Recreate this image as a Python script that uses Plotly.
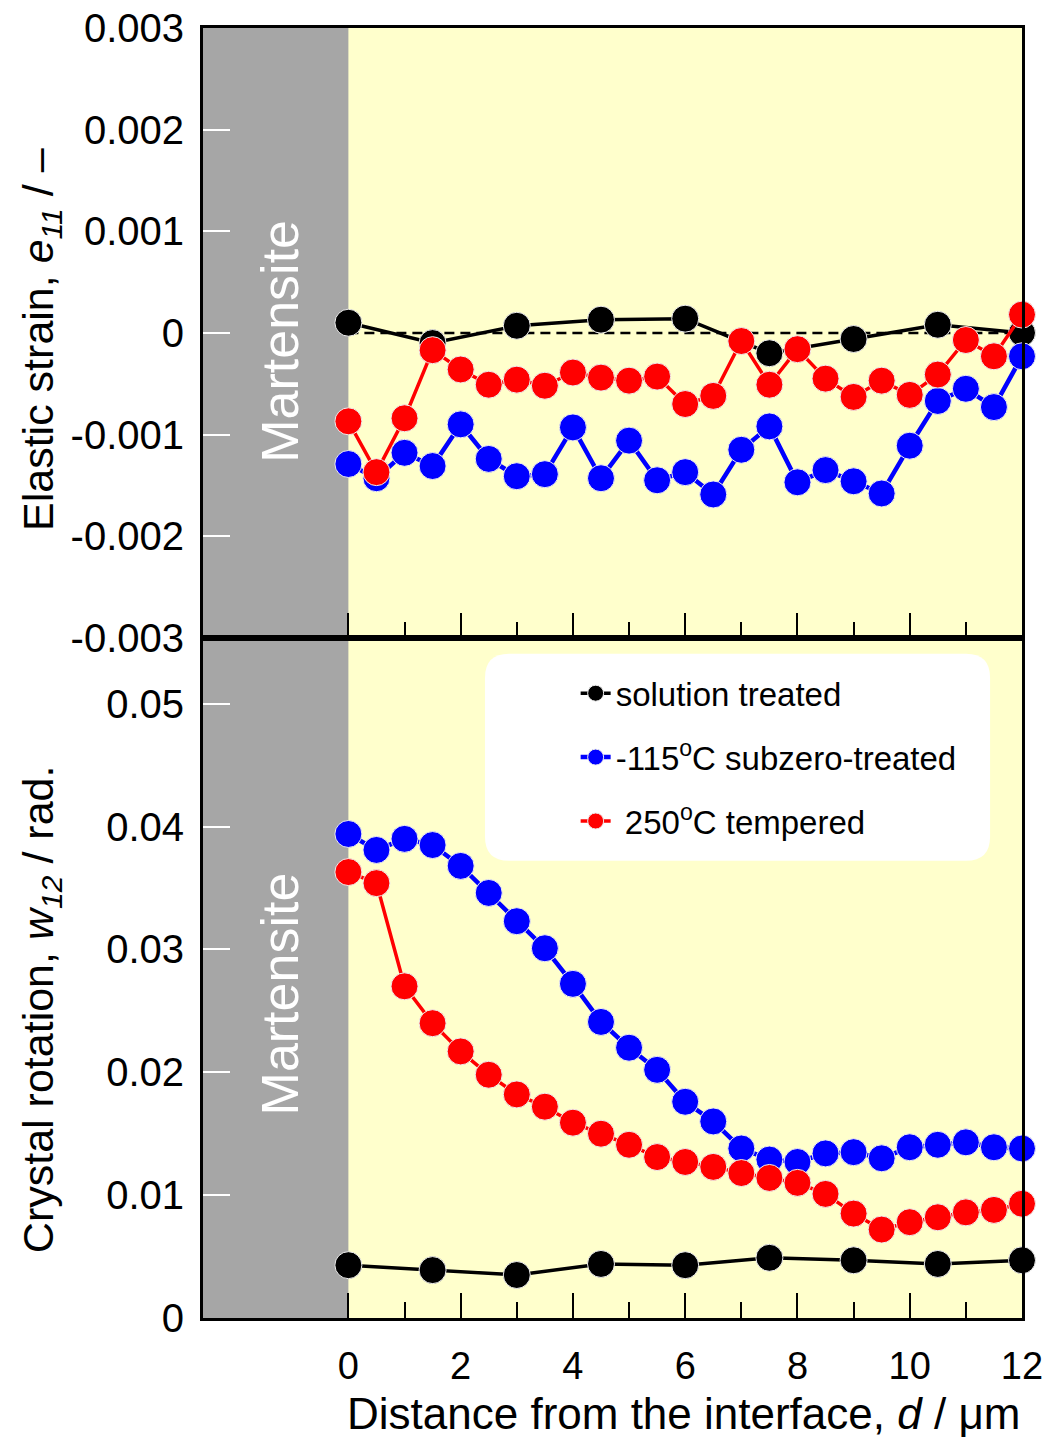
import plotly.graph_objects as go

# ---------------- data ----------------
d_black = [0, 1.5, 3, 4.5, 6, 7.5, 9, 10.5, 12]
d_half = [0, 0.5, 1, 1.5, 2, 2.5, 3, 3.5, 4, 4.5, 5, 5.5, 6, 6.5, 7, 7.5, 8, 8.5,
          9, 9.5, 10, 10.5, 11, 11.5, 12]

strain_solution = [0.00010, -0.00010, 0.00007, 0.00013, 0.00014, -0.00020, -0.00006, 0.00008, 0.00000]
strain_subzero = [-0.00129, -0.00143, -0.00118, -0.00131, -0.00090, -0.00124, -0.00141, -0.00139,
                  -0.00093, -0.00143, -0.00106, -0.00145, -0.00137, -0.00159, -0.00115, -0.00092,
                  -0.00147, -0.00135, -0.00146, -0.00158, -0.00111, -0.00067, -0.00055, -0.00073,
                  -0.00023]
strain_tempered = [-0.00087, -0.00137, -0.00084, -0.00017, -0.00036, -0.00051, -0.00046, -0.00052,
                   -0.00039, -0.00044, -0.00047, -0.00043, -0.00070, -0.00062, -0.00008, -0.00051,
                   -0.00016, -0.00045, -0.00063, -0.00047, -0.00061, -0.00041, -0.00007, -0.00023,
                   0.00018]

rot_solution = [0.0043, 0.0039, 0.0035, 0.0044, 0.0043, 0.0049, 0.0047, 0.0044, 0.0047]
rot_subzero = [0.0394, 0.0381, 0.0390, 0.0385, 0.0368, 0.0346, 0.0323, 0.0301, 0.0272, 0.0241,
               0.0220, 0.0202, 0.0176, 0.0160, 0.0138, 0.0129, 0.0127, 0.0134, 0.0135, 0.0130,
               0.0139, 0.0141, 0.0143, 0.0139, 0.0138]
rot_tempered = [0.0363, 0.0354, 0.0270, 0.0240, 0.0217, 0.0198, 0.0182, 0.0172, 0.0159, 0.0150,
                0.0141, 0.0131, 0.0127, 0.0123, 0.0118, 0.0114, 0.0110, 0.0101, 0.0085, 0.0072,
                0.0078, 0.0082, 0.0086, 0.0088, 0.0093]

series_names = ["solution treated", "-115<sup>o</sup>C subzero-treated", " 250<sup>o</sup>C tempered"]
series_colors = ["#000000", "#0000ff", "#ff0000"]
series_widths = [3.5, 4.5, 3.5]

x_range = [-2.59, 12]
strain_range = [-0.003, 0.003]
rot_range = [0, 0.05537]
x_major = [0, 2, 4, 6, 8, 10, 12]
x_minor = [1, 3, 5, 7, 9, 11]
strain_ticks = [-0.003, -0.002, -0.001, 0, 0.001, 0.002, 0.003]
strain_ticktext = ["-0.003", "-0.002", "-0.001", "0", "0.001", "0.002", "0.003"]
rot_ticks = [0, 0.01, 0.02, 0.03, 0.04, 0.05]
rot_ticktext = ["0", "0.01", "0.02", "0.03", "0.04", "0.05"]

FONT = "Liberation Sans, Arial, sans-serif"
GRAY = "#a6a6a6"
YELLOW = "#ffffcc"

fig = go.Figure()

top_x = [d_black, d_half, d_half]
top_y = [strain_solution, strain_subzero, strain_tempered]
bot_y = [rot_solution, rot_subzero, rot_tempered]

for i in range(3):
    fig.add_trace(go.Scatter(
        x=top_x[i], y=top_y[i], xaxis="x", yaxis="y", mode="lines+markers",
        line=dict(color=series_colors[i], width=series_widths[i]),
        marker=dict(size=27, color=series_colors[i], line=dict(color="#eeeeee", width=1)),
        cliponaxis=False, showlegend=False, legendgroup=str(i)))
for i in range(3):
    fig.add_trace(go.Scatter(
        x=top_x[i], y=bot_y[i], xaxis="x2", yaxis="y2", mode="lines+markers",
        name=series_names[i],
        line=dict(color=series_colors[i], width=series_widths[i]),
        marker=dict(size=27, color=series_colors[i], line=dict(color="#eeeeee", width=1)),
        cliponaxis=False, showlegend=True, legendgroup=str(i)))

split = 0.5273

xcommon = dict(range=x_range, showgrid=False, zeroline=False, showline=True, linecolor="black",
               linewidth=3, mirror=True, ticks="inside", tickmode="array", tickvals=x_major,
               ticklen=25, tickwidth=2, tickcolor="black", automargin=False,
               ticklabeloverflow="allow",
               minor=dict(tickmode="array", tickvals=x_minor, ticks="inside", ticklen=16,
                          tickwidth=2, tickcolor="black"),
               tickfont=dict(family=FONT, size=38, color="black"))

ycommon = dict(showgrid=False, zeroline=False, showline=True, linecolor="black", linewidth=3,
               mirror=True, ticks="inside", tickmode="array", ticklen=27, tickwidth=2,
               tickcolor="white", tickfont=dict(family=FONT, size=40, color="black"),
               ticklabelstandoff=8, automargin=False, ticklabeloverflow="allow")

yright = dict(showgrid=False, zeroline=False, showline=False, ticks="inside", tickmode="array",
              ticklen=27, tickwidth=2, tickcolor="black", showticklabels=False, side="right",
              automargin=False)

fig.update_layout(
    width=1051, height=1437,
    margin=dict(l=195, r=37, t=20, b=127, autoexpand=False),
    paper_bgcolor="white", plot_bgcolor=GRAY,
    font=dict(family=FONT, color="black"),
    xaxis=dict(domain=[0, 1], anchor="y", showticklabels=False, **xcommon),
    xaxis2=dict(domain=[0, 1], anchor="y2", showticklabels=True, ticklabelstandoff=12, **xcommon),
    yaxis=dict(domain=[split, 1], anchor="x", range=strain_range, tickvals=strain_ticks,
               ticktext=strain_ticktext, **ycommon),
    yaxis2=dict(domain=[0, split], anchor="x2", range=rot_range, tickvals=rot_ticks,
                ticktext=rot_ticktext, **ycommon),
    yaxis3=dict(overlaying="y", anchor="x", range=strain_range, tickvals=strain_ticks, **yright),
    yaxis4=dict(overlaying="y2", anchor="x2", range=rot_range, tickvals=rot_ticks, **yright),
    legend=dict(x=0.455, xanchor="left", y=0.506, yanchor="top", bgcolor="rgba(0,0,0,0)",
                font=dict(family=FONT, size=33, color="black"), tracegroupgap=18,
                itemsizing="trace"),
    showlegend=True,
)

# yellow austenite region in both panels
for yr in ["y domain", "y2 domain"]:
    xr = "x" if yr == "y domain" else "x2"
    fig.add_shape(type="rect", xref=xr, yref=yr, x0=0, x1=x_range[1], y0=0, y1=1,
                  fillcolor=YELLOW, line=dict(width=0), layer="below")

# zero reference line in the strain panel
fig.add_shape(type="line", xref="x", yref="y", x0=0, x1=12, y0=0, y1=0,
              line=dict(color="black", width=2.5, dash="10px,6px"), layer="below")

# rounded legend box
def rounded_box(x0, x1, y0, y1, rx, ry):
    return (f"M {x0+rx},{y0} L {x1-rx},{y0} Q {x1},{y0} {x1},{y0+ry} "
            f"L {x1},{y1-ry} Q {x1},{y1} {x1-rx},{y1} L {x0+rx},{y1} "
            f"Q {x0},{y1} {x0},{y1-ry} L {x0},{y0+ry} Q {x0},{y0} {x0+rx},{y0} Z")

pw, ph = 819, 1290
fig.add_shape(type="path", xref="paper", yref="paper",
              path=rounded_box(0.3443, 0.961, 0.3545, 0.5150, 24 / pw, 24 / ph),
              fillcolor="white", line=dict(width=0), layer="below")

# annotations
fig.add_annotation(text="Martensite", xref="x", yref="y domain", x=-1.22, y=0.487,
                   textangle=-90, showarrow=False, font=dict(family=FONT, size=52, color="white"))
fig.add_annotation(text="Martensite", xref="x2", yref="y2 domain", x=-1.22, y=0.477,
                   textangle=-90, showarrow=False, font=dict(family=FONT, size=52, color="white"))
fig.add_annotation(text="Elastic strain, <i>e</i><sub><i>11</i></sub> / \u2013", xref="paper",
                   yref="paper", x=-0.198, y=0.7588, textangle=-90, showarrow=False,
                   xanchor="center", yanchor="middle", font=dict(family=FONT, size=43))
fig.add_annotation(text="Crystal rotation, <i>w</i><sub><i>12</i></sub> / rad.", xref="paper",
                   yref="paper", x=-0.198, y=0.2393, textangle=-90, showarrow=False,
                   xanchor="center", yanchor="middle", font=dict(family=FONT, size=43))
fig.add_annotation(text="Distance from the interface, <i>d</i> / \u03bcm", xref="paper",
                   yref="paper", x=0.587, y=-0.0738, showarrow=False, xanchor="center",
                   yanchor="middle", font=dict(family=FONT, size=44))

fig.write_html("out.html")
